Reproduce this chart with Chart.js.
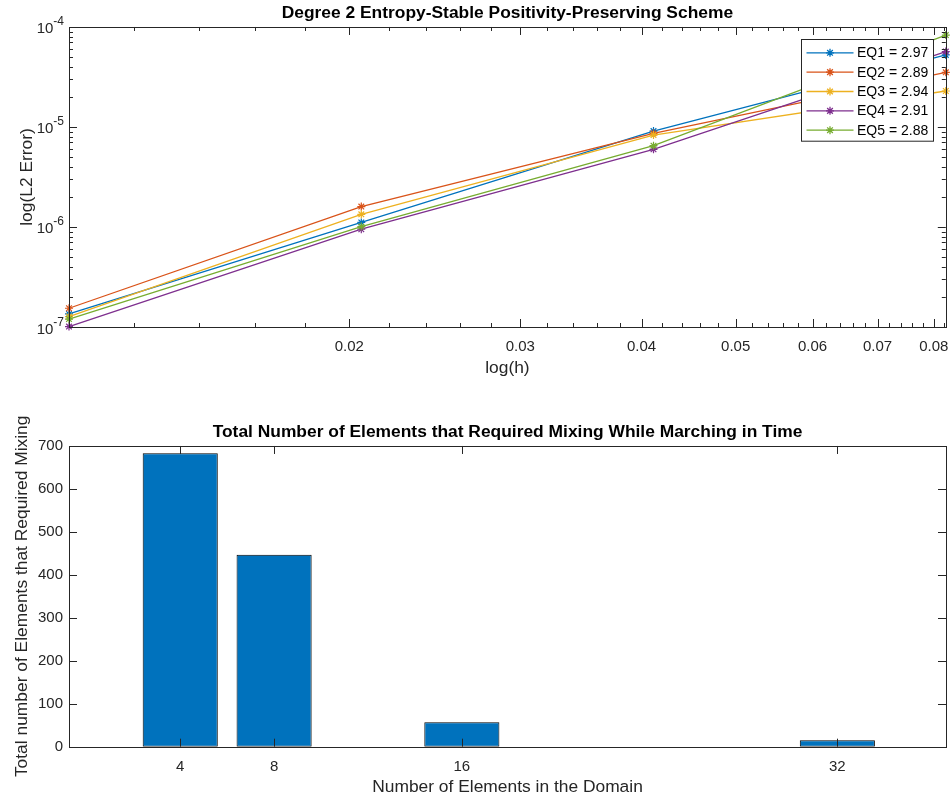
<!DOCTYPE html>
<html><head><meta charset="utf-8">
<script src="https://cdn.jsdelivr.net/npm/chart.js@4.4.1/dist/chart.umd.min.js"></script>
<style>
html,body{margin:0;padding:0;background:#fff;}
#wrap{position:relative;width:951px;height:800px;background:#fff;}
canvas{position:absolute;left:0;}
#c1{top:0}
#c2{top:400px}
</style></head><body>
<div id="wrap"><canvas id="c1" width="951" height="400"></canvas><canvas id="c2" width="951" height="400"></canvas></div>
<script>
// ---------- data: top chart ----------
const hValues = [0.01029, 0.02058, 0.04115, 0.0823];
const eq1Err = [1.35e-7, 1.11e-6, 9.1e-6, 5.25e-5];
const eq2Err = [1.54e-7, 1.60e-6, 8.65e-6, 3.52e-5];
const eq3Err = [1.27e-7, 1.34e-6, 8.3e-6, 2.29e-5];
const eq4Err = [1.01e-7, 9.5e-7, 5.98e-6, 5.67e-5];
const eq5Err = [1.20e-7, 1.01e-6, 6.5e-6, 8.3e-5];
const seriesNames = ['EQ1 = 2.97', 'EQ2 = 2.89', 'EQ3 = 2.94', 'EQ4 = 2.91', 'EQ5 = 2.88'];
const seriesColors = ['#0072BD', '#D95319', '#EDB120', '#7E2F8E', '#77AC30'];
const xTickValues = [0.02, 0.03, 0.04, 0.05, 0.06, 0.07, 0.08];
const xTickLabels = ['0.02', '0.03', '0.04', '0.05', '0.06', '0.07', '0.08'];
const xMinorTicks = [0.012, 0.014, 0.016, 0.018, 0.022, 0.024, 0.026, 0.028, 0.032, 0.034, 0.036, 0.038,
  0.042, 0.044, 0.046, 0.048, 0.052, 0.054, 0.056, 0.058, 0.062, 0.064, 0.066, 0.068,
  0.072, 0.074, 0.076, 0.078, 0.082];
const yTickValues = [1e-7, 1e-6, 1e-5, 1e-4];
const yTickBase = '10';
const yTickExponents = ['-7', '-6', '-5', '-4'];
const yMinorTicks = [2e-7, 3e-7, 4e-7, 5e-7, 6e-7, 7e-7, 8e-7, 9e-7,
  2e-6, 3e-6, 4e-6, 5e-6, 6e-6, 7e-6, 8e-6, 9e-6,
  2e-5, 3e-5, 4e-5, 5e-5, 6e-5, 7e-5, 8e-5, 9e-5];

// ---------- data: bottom chart ----------
const elementCounts = [4, 8, 16, 32];
const mixedElements = [683, 447, 57, 15];
const barXTickLabels = ['4', '8', '16', '32'];
const barYTickValues = [0, 100, 200, 300, 400, 500, 600, 700];

const FONT = '"Liberation Sans", Arial, Helvetica, sans-serif';
const AXC = '#262626';

const axesDecor = {
  id: 'axesDecor',
  afterDatasetsDraw(chart, args, o) {
    const {ctx, chartArea: a, scales} = chart;
    const xs = scales.x, ys = scales.y;
    const L = 8, l = 4;
    ctx.save();
    ctx.strokeStyle = AXC; ctx.lineWidth = 1;
    ctx.beginPath();
    const xt = (v, len) => { const p = Math.round(xs.getPixelForValue(v)) + 0.5;
      ctx.moveTo(p, a.bottom); ctx.lineTo(p, a.bottom - len); ctx.moveTo(p, a.top); ctx.lineTo(p, a.top + len); };
    const yt = (v, len) => { const p = Math.round(ys.getPixelForValue(v)) + 0.5;
      ctx.moveTo(a.left, p); ctx.lineTo(a.left + len, p); ctx.moveTo(a.right, p); ctx.lineTo(a.right - len, p); };
    (o.xMajor || []).forEach(v => xt(v, L));
    (o.xMinor || []).forEach(v => { if (v > xs.min && v < xs.max) xt(v, l); });
    (o.yMajor || []).forEach(v => yt(v, L));
    (o.yMinor || []).forEach(v => { if (v > ys.min && v < ys.max) yt(v, l); });
    ctx.stroke();
    ctx.strokeRect(Math.round(a.left) + 0.5, Math.round(a.top) + 0.5, Math.round(a.right - a.left), Math.round(a.bottom - a.top));
    // power-of-ten tick labels with a raised exponent
    if (o.powLabels) {
      ctx.fillStyle = AXC; ctx.textBaseline = 'alphabetic'; ctx.textAlign = 'left';
      o.powLabels.values.forEach((v, i) => {
        const p = ys.getPixelForValue(v);
        const exp = o.powLabels.exponents[i];
        ctx.font = '12px ' + FONT;
        const we = ctx.measureText(exp).width;
        const xe = a.left - 5 - we;
        ctx.fillText(exp, xe, p - 1.5);
        ctx.font = '15px ' + FONT;
        const wb = ctx.measureText(o.powLabels.base).width;
        ctx.fillText(o.powLabels.base, xe - wb, p + 6.5);
      });
    }
    ctx.restore();
  }
};

const boxLegend = {
  id: 'boxLegend',
  afterDraw(chart, args, o) {
    if (!o.enabled) return;
    const {ctx, chartArea: a} = chart;
    const ds = chart.data.datasets;
    const x0 = Math.round(a.right - 145) + 0.5, y0 = Math.round(a.top + 12) + 0.5;
    const w = 132, h = 101.7, rowH = 19.35;
    ctx.save();
    ctx.fillStyle = '#fff'; ctx.fillRect(x0, y0, w, h);
    ctx.strokeStyle = AXC; ctx.lineWidth = 1; ctx.strokeRect(x0, y0, w, h);
    ctx.font = '14px ' + FONT; ctx.textBaseline = 'middle'; ctx.textAlign = 'left';
    ds.forEach((d, i) => {
      const y = y0 + 13.3 + i * rowH;
      ctx.strokeStyle = d.borderColor; ctx.lineWidth = 1.3;
      ctx.beginPath(); ctx.moveTo(x0 + 5, y); ctx.lineTo(x0 + 52, y); ctx.stroke();
      Chart.helpers.drawPoint(ctx, {pointStyle: 'star', radius: 4, rotation: 0, borderWidth: 1.2}, x0 + 28.5, y);
      ctx.fillStyle = '#000';
      ctx.fillText(d.label, x0 + 55.5, y + 0.5);
    });
    ctx.restore();
  }
};

const noPad = s => { s.paddingLeft = 0; s.paddingRight = 0; s.paddingTop = 0; s.paddingBottom = 0; };
const errSeries = [eq1Err, eq2Err, eq3Err, eq4Err, eq5Err];

new Chart(document.getElementById('c1'), {
  type: 'line',
  data: {
    datasets: errSeries.map((s, i) => ({
      label: seriesNames[i],
      data: hValues.map((h, j) => ({x: h, y: s[j]})),
      borderColor: seriesColors[i], backgroundColor: seriesColors[i],
      borderWidth: 1.3, pointStyle: 'star', pointRadius: 4, pointBorderWidth: 1.2,
      pointBorderColor: seriesColors[i], tension: 0, fill: false, clip: 8,
      order: 5 - i
    }))
  },
  plugins: [axesDecor, boxLegend],
  options: {
    responsive: false, animation: false, events: [],
    layout: {padding: {left: 0, right: 5, top: 0, bottom: 0}},
    plugins: {
      legend: {display: false}, tooltip: {enabled: false},
      title: {display: true, text: 'Degree 2 Entropy-Stable Positivity-Preserving Scheme', fullSize: false,
        color: '#000', font: {family: FONT, size: 17.4, weight: 'bold'}, padding: {top: 2.6, bottom: 3.5}},
      axesDecor: {xMajor: xTickValues, xMinor: xMinorTicks, yMajor: yTickValues, yMinor: yMinorTicks,
        powLabels: {values: yTickValues, base: yTickBase, exponents: yTickExponents}},
      boxLegend: {enabled: true}
    },
    scales: {
      x: {
        type: 'logarithmic', min: hValues[0], max: hValues[hValues.length - 1],
        afterBuildTicks: s => { s.ticks = xTickValues.map(v => ({value: v, major: true})); },
        afterFit: s => { s.height = 73; noPad(s); },
        grid: {display: false, drawTicks: false}, border: {display: false},
        ticks: {autoSkip: false, maxRotation: 0, padding: 11, color: AXC, font: {family: FONT, size: 15},
          callback: (v, i) => xTickLabels[i]},
        title: {display: true, text: 'log(h)', color: AXC, font: {family: FONT, size: 17.4}, padding: {top: 0, bottom: 21.6}}
      },
      y: {
        type: 'logarithmic', min: yTickValues[0], max: yTickValues[yTickValues.length - 1],
        afterBuildTicks: s => { s.ticks = yTickValues.map(v => ({value: v, major: true})); },
        afterFit: s => { s.width = 69; noPad(s); },
        grid: {display: false, drawTicks: false}, border: {display: false},
        ticks: {autoSkip: false, padding: 5, font: {family: FONT, size: 15}, callback: () => ''},
        title: {display: true, text: 'log(L2 Error)', color: AXC, font: {family: FONT, size: 17.4}, padding: {top: 16.6, bottom: 0}}
      }
    }
  }
});

new Chart(document.getElementById('c2'), {
  type: 'bar',
  data: {
    datasets: [{
      label: 'Mixing',
      data: elementCounts.map((n, i) => ({x: n, y: mixedElements[i]})),
      backgroundColor: '#0072BD', borderColor: '#000', borderWidth: 1, borderSkipped: false,
      barPercentage: 0.8, categoryPercentage: 1.0
    }]
  },
  plugins: [axesDecor],
  options: {
    responsive: false, animation: false, events: [],
    layout: {padding: {left: 0, right: 5, top: 0, bottom: 0}},
    plugins: {
      legend: {display: false}, tooltip: {enabled: false},
      title: {display: true, text: 'Total Number of Elements that Required Mixing While Marching in Time', fullSize: false,
        color: '#000', font: {family: FONT, size: 17.4, weight: 'bold'}, padding: {top: 21.6, bottom: 3.5}},
      axesDecor: {xMajor: elementCounts, yMajor: barYTickValues}
    },
    scales: {
      x: {
        type: 'linear', min: -0.74, max: 36.63, offset: false,
        afterBuildTicks: s => { s.ticks = elementCounts.map(v => ({value: v})); },
        afterFit: s => { s.height = 53.3; noPad(s); },
        grid: {display: false, drawTicks: false, offset: false}, border: {display: false},
        ticks: {autoSkip: false, maxRotation: 0, padding: 11, color: AXC, font: {family: FONT, size: 15},
          callback: (v, i) => barXTickLabels[i]},
        title: {display: true, text: 'Number of Elements in the Domain', color: AXC, font: {family: FONT, size: 17.4}, padding: {top: 0, bottom: 2.6}}
      },
      y: {
        type: 'linear', min: 0, max: 700,
        afterBuildTicks: s => { s.ticks = barYTickValues.map(v => ({value: v})); },
        afterFit: s => { s.width = 69; noPad(s); },
        grid: {display: false, drawTicks: false}, border: {display: false},
        ticks: {autoSkip: false, padding: 6, color: AXC, font: {family: FONT, size: 15},
          callback: (v, i) => String(barYTickValues[i])},
        title: {display: true, text: 'Total number of Elements that Required Mixing', color: AXC, font: {family: FONT, size: 17.4}, padding: {top: 12.1, bottom: 0}}
      }
    }
  }
});
</script>
</body></html>
